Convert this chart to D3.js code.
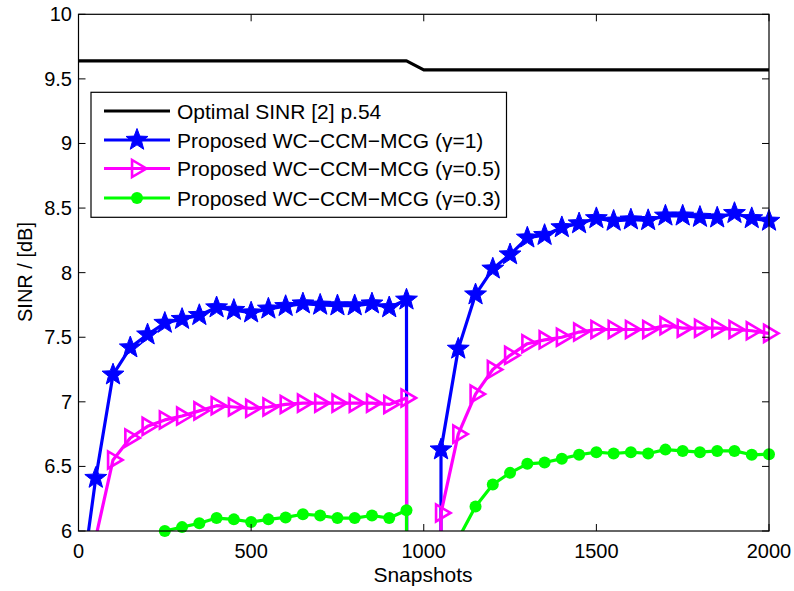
<!DOCTYPE html>
<html>
<head>
<meta charset="utf-8">
<script src="https://cdn.jsdelivr.net/npm/d3@7"></script>
<style>
  body { margin: 0; background: #fff; }
  svg text { font-family: "Liberation Sans", Arial, Helvetica, sans-serif; }
</style>
</head>
<body>
<svg id="chart" width="794" height="591"></svg>
<script>
// ---- data ----
const optimalX = [0,50,100,150,200,250,300,350,400,450,500,550,600,650,700,750,800,850,900,950,
                  1000,1050,1100,1150,1200,1250,1300,1350,1400,1450,1500,1550,1600,1650,1700,1750,1800,1850,1900,1950,2000];
const optimalY = [9.64,9.64,9.64,9.64,9.64,9.64,9.64,9.64,9.64,9.64,9.64,9.64,9.64,9.64,9.64,9.64,9.64,9.64,9.64,9.64,
                  9.57,9.57,9.57,9.57,9.57,9.57,9.57,9.57,9.57,9.57,9.57,9.57,9.57,9.57,9.57,9.57,9.57,9.57,9.57,9.57,9.57];

const snapshots = [0,50,100,150,200,250,300,350,400,450,500,550,600,650,700,750,800,850,900,950,955,
                   1045,1050,1100,1150,1200,1250,1300,1350,1400,1450,1500,1550,1600,1650,1700,1750,1800,1850,1900,1950,2000];

const gamma1 = [5.43,6.41,7.21,7.42,7.52,7.61,7.64,7.67,7.73,7.71,7.69,7.72,7.74,7.76,7.75,7.745,7.745,7.76,7.73,7.79,-10,
                -10,6.63,7.41,7.83,8.03,8.14,8.27,8.29,8.35,8.38,8.42,8.40,8.41,8.405,8.44,8.44,8.43,8.425,8.46,8.42,8.40];

const gamma05 = [5.0,5.95,6.55,6.72,6.81,6.86,6.89,6.93,6.97,6.96,6.95,6.96,6.98,6.99,6.99,6.99,6.99,6.99,6.98,7.03,-10,
                 -10,6.14,6.75,7.06,7.25,7.36,7.45,7.48,7.50,7.54,7.56,7.56,7.56,7.56,7.59,7.57,7.57,7.57,7.56,7.55,7.53];

const gamma03 = [4.5,4.7,4.9,5.1,5.94,6.00,6.03,6.06,6.10,6.09,6.07,6.09,6.105,6.13,6.12,6.10,6.10,6.12,6.10,6.16,-10,
                 -10,5.0,5.94,6.19,6.36,6.45,6.52,6.53,6.56,6.59,6.61,6.60,6.61,6.60,6.63,6.62,6.61,6.62,6.62,6.59,6.595];

const xTicks = [0,500,1000,1500,2000];
const yTicks = [6,6.5,7,7.5,8,8.5,9,9.5,10];
const legendLabels = ["Optimal SINR [2] p.54","Proposed WC\u2212CCM\u2212MCG (\u03b3=1)",
                      "Proposed WC\u2212CCM\u2212MCG (\u03b3=0.5)","Proposed WC\u2212CCM\u2212MCG (\u03b3=0.3)"];
</script>
<script>
(function(){
const svg = d3.select("#chart");
const mLeft = 78.5, mRight = 769, mTop = 14.3, mBottom = 531;
const x = d3.scaleLinear().domain([0,2000]).range([mLeft,mRight]);
const y = d3.scaleLinear().domain([6,10]).range([mBottom,mTop]);

svg.append("defs").append("clipPath").attr("id","clip")
  .append("rect").attr("x",mLeft).attr("y",mTop).attr("width",mRight-mLeft).attr("height",mBottom-mTop);

const line = d3.line().x(d=>x(d[0])).y(d=>y(d[1]));
const plot = svg.append("g");
const lines = plot.append("g").attr("clip-path","url(#clip)");

function starPath(r){
  const pts=[];
  for(let i=0;i<10;i++){
    const rr = i%2===0 ? r : r*0.42;
    const a = -Math.PI/2 + i*Math.PI/5;
    pts.push([rr*Math.cos(a), rr*Math.sin(a)]);
  }
  return "M"+pts.map(p=>p.join(",")).join("L")+"Z";
}
function triPath(r){
  return `M${r},0L${-r*0.7},${-r}L${-r*0.7},${r}Z`;
}

const series = [
  {xs: optimalX, ys: optimalY, color:"#000", marker:null},
  {xs: snapshots, ys: gamma1, color:"#0000ff", marker:"star"},
  {xs: snapshots, ys: gamma05, color:"#ff00ff", marker:"tri"},
  {xs: snapshots, ys: gamma03, color:"#00ff00", marker:"dot"}
];

function drawMarker(g, type, color, cx, cy){
  if(type==="star"){
    g.append("path").attr("d",starPath(11.5)).attr("transform",`translate(${cx},${cy})`)
     .attr("fill",color).attr("stroke",color).attr("stroke-width",1);
  } else if(type==="tri"){
    g.append("path").attr("d",triPath(8.5)).attr("transform",`translate(${cx+1},${cy})`)
     .attr("fill","none").attr("stroke",color).attr("stroke-width",2.6).attr("stroke-linejoin","miter");
  } else if(type==="dot"){
    g.append("circle").attr("cx",cx).attr("cy",cy).attr("r",6).attr("fill",color);
  }
}

series.forEach(s=>{
  const pts = s.xs.map((v,i)=>[v,s.ys[i]]);
  lines.append("path").datum(pts).attr("d",line).attr("fill","none")
    .attr("stroke",s.color).attr("stroke-width",3.2).attr("stroke-linejoin","round");
  if(s.marker){
    const mg = plot.append("g");
    pts.forEach(p=>{
      if(p[0]%50===0 && p[1]>=6 && p[1]<=10) drawMarker(mg,s.marker,s.color,x(p[0]),y(p[1]));
    });
  }
});

// axes box
const axisG = svg.append("g");
axisG.append("rect").attr("x",mLeft).attr("y",mTop).attr("width",mRight-mLeft).attr("height",mBottom-mTop)
  .attr("fill","none").attr("stroke","#000").attr("stroke-width",1.2);

const tickLen = 7;
xTicks.forEach(t=>{
  axisG.append("line").attr("x1",x(t)).attr("x2",x(t)).attr("y1",mBottom).attr("y2",mBottom-tickLen).attr("stroke","#000");
  axisG.append("line").attr("x1",x(t)).attr("x2",x(t)).attr("y1",mTop).attr("y2",mTop+tickLen).attr("stroke","#000");
  axisG.append("text").attr("x",x(t)).attr("y",557.5).attr("text-anchor","middle")
    .attr("font-size",20).text(t);
});
yTicks.forEach(t=>{
  axisG.append("line").attr("x1",mLeft).attr("x2",mLeft+tickLen).attr("y1",y(t)).attr("y2",y(t)).attr("stroke","#000");
  axisG.append("line").attr("x1",mRight).attr("x2",mRight-tickLen).attr("y1",y(t)).attr("y2",y(t)).attr("stroke","#000");
  axisG.append("text").attr("x",72).attr("y",y(t)+7).attr("text-anchor","end")
    .attr("font-size",20).text(String(t));
});

svg.append("text").attr("x",423).attr("y",581.5).attr("text-anchor","middle")
  .attr("font-size",21).text("Snapshots");
svg.append("text").attr("transform","translate(31.5,272) rotate(-90)").attr("text-anchor","middle")
  .attr("font-size",20).text("SINR / [dB]");

// legend
const leg = svg.append("g");
leg.append("rect").attr("x",91).attr("y",92.3).attr("width",415.5).attr("height",125)
  .attr("fill","#fff").attr("stroke","#000").attr("stroke-width",1.2);
const rowY = [111,140,168.5,198];
series.forEach((s,i)=>{
  leg.append("line").attr("x1",104).attr("x2",170).attr("y1",rowY[i]).attr("y2",rowY[i])
    .attr("stroke",s.color).attr("stroke-width",3.2);
  if(s.marker) drawMarker(leg,s.marker,s.color,137,rowY[i]);
  leg.append("text").attr("x",177).attr("y",rowY[i]+7.5).attr("font-size",21).text(legendLabels[i]);
});
})();
</script>
</body>
</html>
